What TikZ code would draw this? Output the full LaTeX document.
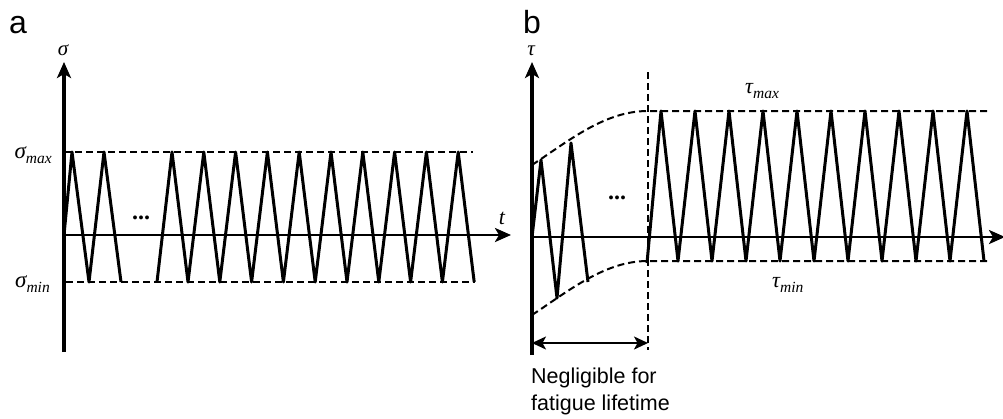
\documentclass[tikz,border=0pt]{standalone}
\usepackage{fontspec}
\setmainfont{Liberation Sans}
\newfontfamily\tms{Liberation Serif}
\usetikzlibrary{arrows.meta}
\newcommand\symsub[3]{{\fontsize{#3}{#3}\selectfont #1}\raisebox{-5pt}{\fontsize{15.5}{16}\selectfont #2}}
\begin{document}
\begin{tikzpicture}[x=1pt,y=-1pt,
  axis/.style={line width=3.4pt,-{Stealth[length=16pt,width=14pt,inset=4pt]}},
  taxis/.style={line width=2.8pt,-{Stealth[length=16pt,width=14pt,inset=4pt]}},
  wave/.style={line width=3pt,line join=round},
  guide/.style={line width=2pt,dash pattern=on 7pt off 4pt},
  dim/.style={line width=1.8pt,{Stealth[length=14pt,width=13pt,inset=3.5pt]}-{Stealth[length=14pt,width=13pt,inset=3.5pt]}},
  panel/.style={inner sep=0pt,font=\fontsize{32}{36}\selectfont},
  sym/.style={inner sep=0pt,font=\tms\itshape},
  note/.style={inner sep=0pt,font=\fontsize{21.5}{26}\selectfont},
  dots/.style={inner sep=0pt,font=\tms\bfseries\fontsize{24}{26}\selectfont}]
\useasboundingbox (0,0) rectangle (1003,418);

% ---------- panel a ----------
\node[panel,anchor=base west] (la) at (9,33) {a};
\coordinate (aO) at (64,235);
\coordinate (aB) at (64,352);
\coordinate (aT) at (64,62);
\coordinate (aR) at (511,235);
\draw[axis] (aB) -- (aT);
\draw[taxis] (aO) -- (aR);
\node[sym,font=\tms\itshape\fontsize{21}{22}\selectfont] (sig) at (63,50) {σ};
\node[sym,font=\tms\itshape\fontsize{22}{24}\selectfont] (ta) at (502,218) {t};
% guides
\coordinate (aMax0) at (64,152); \coordinate (aMax1) at (473,152);
\coordinate (aMin0) at (66,282); \coordinate (aMin1) at (475,282);
\draw[guide] (aMax0) -- (aMax1);
\draw[guide] (aMin0) -- (aMin1);
\node[sym,anchor=base east] (smax) at (52,158) {\symsub{σ}{max}{23}};
\node[sym,anchor=base east] (smin) at (50,287) {\symsub{σ}{min}{23}};
% wave
\draw[wave] (aO) -- (72,152) -- (89,282) -- (104,152) -- (121,282);
\draw[wave] (157,282) \foreach \k in {0,...,9}{ -- ({172+31.8*\k},152) -- ({188+31.8*\k},282)};
\node[dots] (da) at (141,218) {...};

% ---------- panel b ----------
\node[panel,anchor=base west] (lb) at (523,33) {b};
\coordinate (bO) at (532,237);
\coordinate (bB) at (532,355);
\coordinate (bT) at (532,62);
\coordinate (bR) at (1005,237);
\draw[axis] (bB) -- (bT);
\draw[taxis] (bO) -- (bR);
\node[sym,font=\tms\itshape\fontsize{21}{22}\selectfont] (tau) at (531,51) {τ};
% divider
\coordinate (vT) at (648,72); \coordinate (vB) at (648,350);
\draw[guide] (vT) -- (vB);
% envelopes
\draw[guide] (532,165) .. controls (570,140) and (605,111) .. (648,111) -- (988,111);
\draw[guide] (532,315) .. controls (570,290) and (605,261) .. (648,261) -- (990,261);
\node[sym,anchor=base west] (tmax) at (745,93) {\symsub{τ}{max}{22}};
\node[sym,anchor=base west] (tmin) at (772,287) {\symsub{τ}{min}{22}};
% wave
\draw[wave] (bO) -- (541,160) -- (557,298) -- (571,143) -- (588,282);
\draw[wave] (647,263) \foreach \k in {0,...,9}{ -- ({661+34*\k},111) -- ({678+34*\k},261)};
\node[dots] (db) at (617,198) {...};
% dimension
\coordinate (d0) at (532,343); \coordinate (d1) at (648,343);
\draw[dim] (d0) -- (d1);
\node[note,anchor=base west] (n1) at (531,383) {Negligible for};
\node[note,anchor=base west] (n2) at (531,410) {fatigue lifetime};
\end{tikzpicture}
\end{document}
